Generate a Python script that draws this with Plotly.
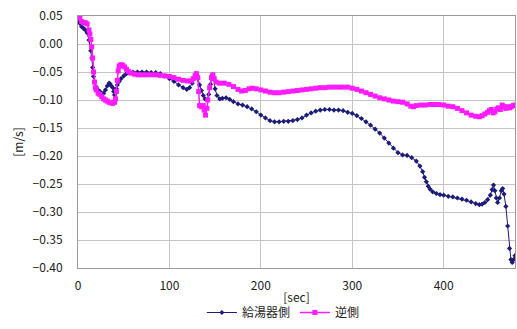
import plotly.graph_objects as go

# Flow velocity [m/s] over time [sec] at the heater side and the opposite side
t_heater = [0, 2, 4, 6, 8, 10, 12, 14, 15, 16, 17, 18, 20, 22, 24, 26, 28, 30, 32, 34, 35, 36, 38, 39, 40, 41, 42, 43, 45, 47, 50, 53, 56, 60, 65, 70, 75, 80, 85, 90, 95, 100, 105, 110, 115, 119, 122, 125, 127, 129, 130, 131, 133, 135, 137, 139, 141, 143, 145, 147, 148, 150, 152, 155, 158, 162, 166, 170, 175, 180, 185, 190, 195, 200, 205, 210, 215, 220, 225, 230, 235, 240, 245, 250, 255, 260, 265, 270, 275, 280, 285, 290, 295, 300, 305, 310, 315, 320, 325, 330, 335, 340, 345, 350, 355, 360, 365, 370, 374, 377, 379, 381, 383, 385, 388, 392, 396, 400, 405, 410, 415, 420, 425, 430, 435, 439, 442, 445, 448, 451, 453, 454.5, 456, 457.5, 459, 461, 463, 464.5, 466, 468, 470, 472, 473.5, 475, 476.5, 478]
v_heater = [0.040, 0.037, 0.031, 0.028, 0.025, 0.020, 0.007, -0.012, -0.025, -0.042, -0.058, -0.068, -0.077, -0.082, -0.085, -0.088, -0.088, -0.082, -0.075, -0.070, -0.071, -0.074, -0.078, -0.085, -0.091, -0.088, -0.080, -0.073, -0.067, -0.062, -0.057, -0.053, -0.051, -0.050, -0.050, -0.050, -0.050, -0.051, -0.051, -0.053, -0.057, -0.062, -0.067, -0.073, -0.078, -0.081, -0.078, -0.070, -0.060, -0.053, -0.055, -0.062, -0.073, -0.083, -0.092, -0.098, -0.100, -0.090, -0.072, -0.055, -0.058, -0.080, -0.092, -0.098, -0.097, -0.096, -0.099, -0.103, -0.107, -0.109, -0.112, -0.116, -0.121, -0.127, -0.132, -0.137, -0.139, -0.139, -0.138, -0.138, -0.137, -0.135, -0.132, -0.127, -0.123, -0.120, -0.118, -0.117, -0.117, -0.118, -0.118, -0.119, -0.122, -0.124, -0.128, -0.133, -0.139, -0.145, -0.152, -0.159, -0.168, -0.177, -0.186, -0.194, -0.198, -0.199, -0.203, -0.209, -0.218, -0.228, -0.238, -0.246, -0.254, -0.259, -0.264, -0.267, -0.269, -0.270, -0.272, -0.273, -0.275, -0.277, -0.279, -0.282, -0.285, -0.287, -0.286, -0.283, -0.278, -0.270, -0.260, -0.252, -0.262, -0.275, -0.283, -0.275, -0.262, -0.258, -0.268, -0.290, -0.325, -0.365, -0.385, -0.390, -0.385, -0.378]

t_opposite = [0, 2, 4, 6, 8, 10, 12, 13, 14, 15, 16, 17, 18, 19, 20, 22, 24, 26, 28, 30, 32, 34, 36, 38, 40, 41, 42, 43, 44, 45, 46, 47, 49, 51, 53, 55, 58, 62, 66, 70, 75, 80, 85, 90, 95, 100, 105, 110, 115, 120, 124, 126, 128, 129.5, 131, 132, 133, 135, 137, 138, 139.5, 141, 142, 144, 146, 147.5, 149, 151, 155, 160, 165, 170, 175, 179, 183, 187, 191, 195, 200, 205, 210, 215, 220, 225, 230, 235, 240, 245, 250, 255, 260, 265, 270, 275, 280, 285, 290, 295, 300, 305, 310, 315, 320, 325, 330, 335, 340, 345, 350, 355, 360, 364, 367, 370, 375, 380, 385, 390, 395, 400, 405, 410, 415, 420, 425, 430, 435, 439, 442, 445, 448, 450, 452, 454, 456, 458, 460, 462, 464, 466, 468, 470, 472, 474, 476, 478]
v_opposite = [0.050, 0.046, 0.040, 0.038, 0.038, 0.036, 0.025, 0.018, 0.008, -0.005, -0.025, -0.050, -0.068, -0.078, -0.082, -0.088, -0.090, -0.094, -0.098, -0.100, -0.102, -0.104, -0.105, -0.106, -0.104, -0.098, -0.085, -0.065, -0.048, -0.040, -0.038, -0.037, -0.038, -0.041, -0.045, -0.049, -0.052, -0.054, -0.055, -0.055, -0.055, -0.055, -0.055, -0.056, -0.057, -0.058, -0.060, -0.063, -0.065, -0.066, -0.066, -0.062, -0.057, -0.053, -0.060, -0.085, -0.110, -0.112, -0.110, -0.118, -0.127, -0.115, -0.100, -0.078, -0.060, -0.055, -0.062, -0.068, -0.070, -0.070, -0.072, -0.076, -0.081, -0.084, -0.083, -0.080, -0.079, -0.080, -0.082, -0.084, -0.086, -0.087, -0.087, -0.086, -0.085, -0.084, -0.083, -0.082, -0.081, -0.080, -0.079, -0.078, -0.078, -0.077, -0.077, -0.077, -0.077, -0.077, -0.079, -0.081, -0.084, -0.087, -0.090, -0.093, -0.096, -0.098, -0.100, -0.102, -0.103, -0.104, -0.107, -0.111, -0.112, -0.110, -0.109, -0.109, -0.108, -0.108, -0.108, -0.109, -0.111, -0.112, -0.115, -0.119, -0.123, -0.127, -0.129, -0.130, -0.128, -0.125, -0.122, -0.119, -0.117, -0.123, -0.121, -0.116, -0.114, -0.117, -0.109, -0.112, -0.115, -0.112, -0.114, -0.112, -0.110, -0.109]

y_ticks = [0.05, 0.00, -0.05, -0.10, -0.15, -0.20, -0.25, -0.30, -0.35, -0.40]
x_ticks = [0, 100, 200, 300, 400]

FONT = "Noto Sans CJK JP"
NAVY = "#1c1c78"
MAGENTA = "#ff1aff"

fig = go.Figure()
fig.add_trace(go.Scatter(
    x=t_heater, y=v_heater, name="給湯器側", mode="lines+markers",
    line=dict(color=NAVY, width=1),
    marker=dict(symbol="diamond", size=4, color=NAVY),
))
fig.add_trace(go.Scatter(
    x=t_opposite, y=v_opposite, name="逆側", mode="lines+markers",
    line=dict(color=MAGENTA, width=1.5),
    marker=dict(symbol="square", size=5, color=MAGENTA),
))

axis_common = dict(
    showgrid=True, gridcolor="#c4c4c4", gridwidth=1,
    showline=True, linecolor="#9a9a9a", linewidth=1, mirror=True,
    zeroline=False, ticks="", automargin=False,
    tickfont=dict(family=FONT, size=12, color="#222"),
)

# Plot area spans pixels 78..515 horizontally and 16..268 vertically;
# the space below the y domain holds tick labels, x title and legend.
H, T, B = 329, 16, 8
plot_bottom = 268
paper_h = H - T - B
dom_lo = (H - B - plot_bottom) / paper_h

fig.update_layout(
    width=517, height=H,
    margin=dict(l=78, r=2, t=T, b=B),
    paper_bgcolor="white", plot_bgcolor="white",
    font=dict(family=FONT, color="#222"),
    showlegend=True,
    legend=dict(
        orientation="h", x=0.47, xanchor="center",
        y=-6 / paper_h, yanchor="bottom",
        font=dict(family=FONT, size=12, color="#222"),
        itemwidth=30, tracegroupgap=0,
    ),
    xaxis=dict(
        range=[0, 478], tickvals=x_ticks, ticklabelstandoff=7,
        title=dict(text="[sec]", font=dict(family=FONT, size=12, color="#222"), standoff=1),
        **axis_common,
    ),
    yaxis=dict(
        domain=[dom_lo, 1],
        range=[-0.40, 0.05], tickvals=y_ticks, tickformat=".2f", ticklabelstandoff=12,
        title=dict(text="[m/s]", font=dict(family=FONT, size=12, color="#222"), standoff=6),
        **axis_common,
    ),
)

fig.write_html("out.html")
